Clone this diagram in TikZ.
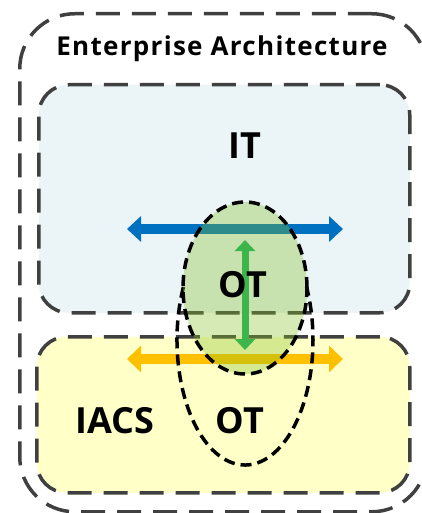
\documentclass[tikz,border=0pt]{standalone}
\usepackage{fontspec}
\setmainfont{Open Sans}
\usetikzlibrary{arrows.meta,shapes.geometric}
\definecolor{itfill}{HTML}{EBF4F7}
\definecolor{iacsfill}{HTML}{FFFFC8}
\definecolor{edgegray}{HTML}{404040}
\definecolor{itblue}{HTML}{0070C0}
\definecolor{iacsorange}{HTML}{FFC000}
\definecolor{otgreen}{HTML}{84C226}
\definecolor{linkgreen}{HTML}{3DB54A}
\begin{document}
\begin{tikzpicture}[x=1pt,y=-1pt,
  zone/.style={draw=edgegray, line width=3.5pt, dash pattern=on 24pt off 12pt,
    rounded corners=30pt, inner sep=0pt, anchor=north west},
  ring/.style={draw=black, line width=3.5pt, dash pattern=on 11pt off 6pt},
  title/.style={font=\bfseries\fontsize{26}{26}\selectfont\addfontfeature{LetterSpace=5}, inner sep=0pt, anchor=base},
  tag/.style={font=\bfseries\fontsize{36}{36}\selectfont, inner sep=0pt, anchor=base},
  flow/.style={line width=10pt, {Triangle[width=25pt,length=14pt]}-{Triangle[width=25pt,length=14pt]}}]
\useasboundingbox (0,0) rectangle (422,513);

% enterprise boundary and the two zones
\node[zone, rounded corners=55pt, minimum width=407pt, minimum height=498pt] (ea) at (18,12) {};
\node[zone, fill=itfill, minimum width=371pt, minimum height=228pt] (itzone) at (37,83) {};
\node[zone, fill=iacsfill, minimum width=373pt, minimum height=156pt] (iacszone) at (35,335) {};

% horizontal flows inside each zone
\coordinate (itL) at (127,229);
\coordinate (itR) at (343,229);
\coordinate (iaL) at (127,359);
\coordinate (iaR) at (343,359);
\draw[flow, itblue] (itL) -- (itR);
\draw[flow, iacsorange, {Triangle[width=26pt,length=14pt]}-{Triangle[width=26pt,length=14pt]}] (iaL) -- (iaR);

% OT reaching down into IACS
\draw[ring] ([shift={(205.1:68 and 125)}]245,340) arc[start angle=205.1, end angle=-25.1, x radius=68, y radius=125];

% OT overlap region
\node[ring, ellipse, fill=otgreen, fill opacity=0.34, minimum width=124pt, minimum height=172pt, inner sep=0pt] (ot) at (245,288) {};

% vertical link between IT and IACS
\coordinate (vT) at (245,240);
\coordinate (vB) at (245,350);
\draw[linkgreen, line width=7pt, {Triangle[width=20pt,length=11pt]}-{Triangle[width=20pt,length=11pt]}] (vT) -- (vB);

% labels
\node[title] (eat) at (222,56) {Enterprise Architecture};
\node[tag] (itt) at (245,158) {IT};
\node[tag] (ott) at (243,297) {OT};
\node[tag] (iacst) at (115,433) {IACS};
\node[tag] (otl) at (240,433) {OT};
\end{tikzpicture}
\end{document}
